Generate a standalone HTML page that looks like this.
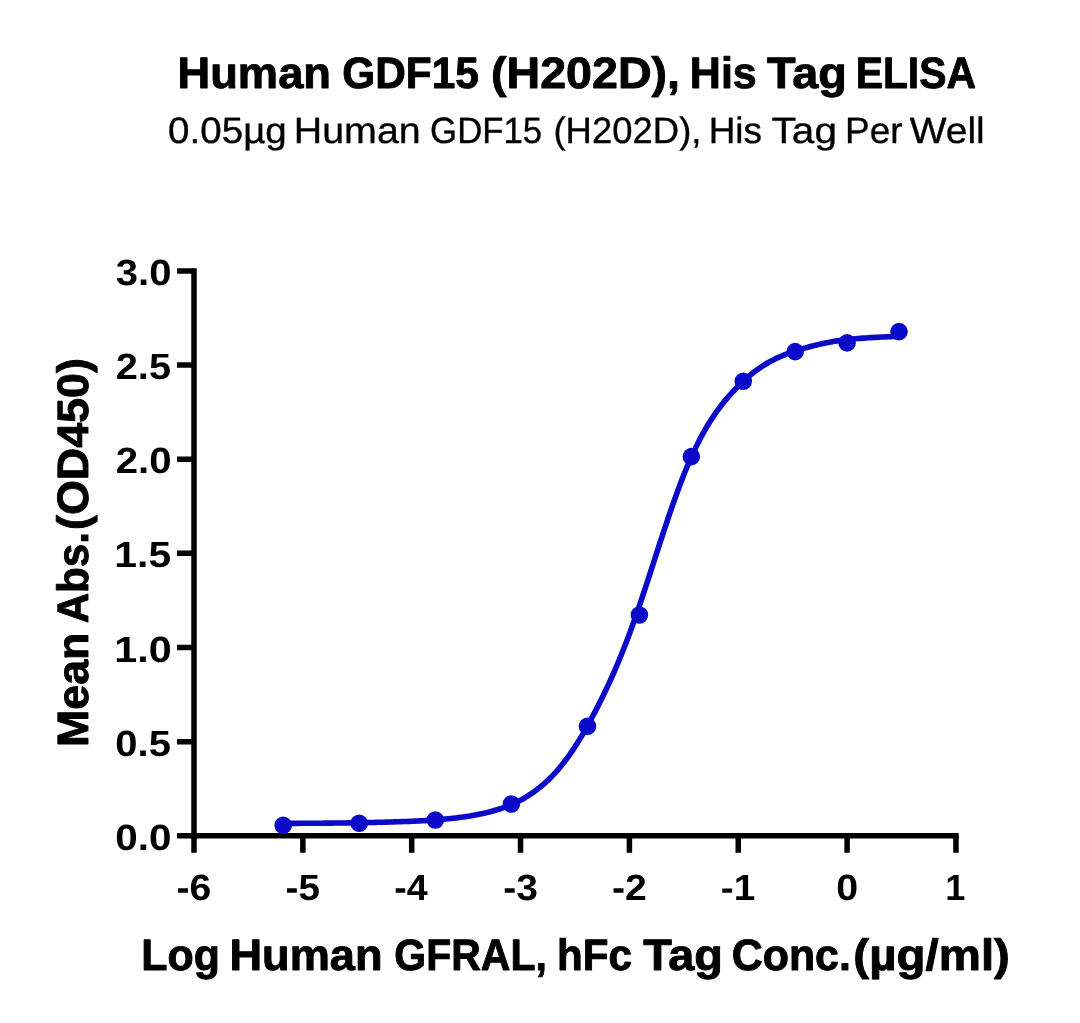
<!DOCTYPE html>
<html lang="en">
<head>
<meta charset="utf-8">
<title>Human GDF15 (H202D), His Tag ELISA</title>
<style>
html,body{margin:0;padding:0;background:#fff;}
body{width:1080px;height:1023px;overflow:hidden;}
svg{display:block;}
text{font-family:"Liberation Sans", "Noto Sans CJK SC", sans-serif;fill:#000;stroke:#000;stroke-linejoin:round;white-space:pre;}
.b{font-weight:700;}
</style>
</head>
<body>
<svg width="1080" height="1023" viewBox="0 0 1080 1023">
<rect x="0" y="0" width="1080" height="1023" fill="#ffffff"/>
<g id="title" aria-label="Human GDF15 (H202D), His Tag ELISA">
<text id="title_0" class="b" transform="matrix(1.03213 0 0.001 1 177.46 87.90)" font-size="43.9" stroke-width="0.9">Human</text>
<text id="title_1" class="b" transform="matrix(0.96682 0 0.001 1 342.19 87.90)" font-size="43.9" stroke-width="0.9">GDF15</text>
<text id="title_2" class="b" transform="matrix(1.06194 0 0.001 1 490.99 87.90)" font-size="43.9" stroke-width="0.9">(H202D),</text>
<text id="title_3" class="b" transform="matrix(0.98078 0 0.001 1 689.81 87.90)" font-size="43.9" stroke-width="0.9">His</text>
<text id="title_4" class="b" transform="matrix(1.06786 0 0.001 1 767.03 87.90)" font-size="43.9" stroke-width="0.9">Tag</text>
<text id="title_5" class="b" transform="matrix(0.93044 0 0.001 1 855.66 87.90)" font-size="43.9" stroke-width="0.9">ELISA</text>
</g>
<g id="sub" aria-label="0.05µg Human GDF15 (H202D), His Tag Per Well">
<text id="sub_0" transform="matrix(1.05500 0 0.001 1 168.12 142.70)" font-size="36.55" stroke-width="0.35">0.05µg</text>
<text id="sub_1" transform="matrix(1.07833 0 0.001 1 293.68 142.70)" font-size="36.55" stroke-width="0.35">Human</text>
<text id="sub_2" transform="matrix(0.95138 0 0.001 1 430.12 142.70)" font-size="36.55" stroke-width="0.35">GDF15</text>
<text id="sub_3" transform="matrix(0.99840 0 0.001 1 553.45 142.70)" font-size="36.55" stroke-width="0.35">(H202D),</text>
<text id="sub_4" transform="matrix(1.01109 0 0.001 1 708.67 142.70)" font-size="36.55" stroke-width="0.35">His</text>
<text id="sub_5" transform="matrix(1.10927 0 0.001 1 771.58 142.70)" font-size="36.55" stroke-width="0.35">Tag</text>
<text id="sub_6" transform="matrix(1.01253 0 0.001 1 845.05 142.70)" font-size="36.55" stroke-width="0.35">Per</text>
<text id="sub_7" transform="matrix(1.06696 0 0.001 1 909.65 142.70)" font-size="36.55" stroke-width="0.35">Well</text>
</g>
<g stroke="#000" stroke-width="5.5" fill="none" stroke-linecap="butt">
<path d="M194.00 268.15V838.55"/>
<path d="M191.25 835.80H958.70"/>
<path d="M177.00 835.80H194.00M177.00 741.65H194.00M177.00 647.50H194.00M177.00 553.35H194.00M177.00 459.20H194.00M177.00 365.05H194.00M177.00 270.90H194.00M194.00 835.80V852.70M302.85 835.80V852.70M411.70 835.80V852.70M520.55 835.80V852.70M629.40 835.80V852.70M738.25 835.80V852.70M847.10 835.80V852.70M955.95 835.80V852.70"/>
</g>
<g id="yticks">
<text id="yt0" class="b" transform="matrix(1.10855 0 0.001 1 115.30 849.85)" font-size="36.5" stroke-width="0.0">0.0</text>
<text id="yt1" class="b" transform="matrix(1.09721 0 0.001 1 115.34 755.70)" font-size="36.5" stroke-width="0.0">0.5</text>
<text id="yt2" class="b" transform="matrix(1.13103 0 0.001 1 114.29 661.55)" font-size="36.5" stroke-width="0.0">1.0</text>
<text id="yt3" class="b" transform="matrix(1.11905 0 0.001 1 114.35 567.40)" font-size="36.5" stroke-width="0.0">1.5</text>
<text id="yt4" class="b" transform="matrix(1.10150 0 0.001 1 115.70 473.25)" font-size="36.5" stroke-width="0.0">2.0</text>
<text id="yt5" class="b" transform="matrix(1.09068 0 0.001 1 115.73 379.10)" font-size="36.5" stroke-width="0.0">2.5</text>
<text id="yt6" class="b" transform="matrix(1.09942 0 0.001 1 115.70 284.95)" font-size="36.5" stroke-width="0.0">3.0</text>
</g>
<g id="xticks">
<text id="xt0" class="b" transform="matrix(1.07226 0 0.001 1 176.50 900.40)" font-size="36.5" stroke-width="0.0">-6</text>
<text id="xt1" class="b" transform="matrix(1.06149 0 0.001 1 285.58 900.40)" font-size="36.5" stroke-width="0.0">-5</text>
<text id="xt2" class="b" transform="matrix(1.03203 0 0.001 1 394.22 900.40)" font-size="36.5" stroke-width="0.0">-4</text>
<text id="xt3" class="b" transform="matrix(1.06973 0 0.001 1 503.13 900.40)" font-size="36.5" stroke-width="0.0">-3</text>
<text id="xt4" class="b" transform="matrix(1.07655 0 0.001 1 611.96 900.40)" font-size="36.5" stroke-width="0.0">-2</text>
<text id="xt5" class="b" transform="matrix(1.06283 0 0.001 1 720.81 900.40)" font-size="36.5" stroke-width="0.0">-1</text>
<text id="xt6" class="b" transform="matrix(1.07972 0 0.001 1 836.13 900.40)" font-size="36.5" stroke-width="0.0">0</text>
<text id="xt7" class="b" transform="matrix(0.98939 0 0.001 1 945.35 900.40)" font-size="36.5" stroke-width="0.0">1</text>
</g>
<g id="xl" aria-label="Log Human GFRAL, hFc Tag Conc.(µg/ml)">
<text id="xl_0" class="b" transform="matrix(0.97765 0 0.001 1 141.24 969.50)" font-size="43.9" stroke-width="0.9">Log</text>
<text id="xl_1" class="b" transform="matrix(1.03010 0 0.001 1 229.41 969.50)" font-size="43.9" stroke-width="0.9">Human</text>
<text id="xl_2" class="b" transform="matrix(0.93402 0 0.001 1 394.27 969.50)" font-size="43.9" stroke-width="0.9">GFRAL,</text>
<text id="xl_3" class="b" transform="matrix(0.96061 0 0.001 1 557.00 969.50)" font-size="43.9" stroke-width="0.9">hFc</text>
<text id="xl_4" class="b" transform="matrix(1.06761 0 0.001 1 643.17 969.50)" font-size="43.9" stroke-width="0.9">Tag</text>
<text id="xl_5" class="b" transform="matrix(0.97815 0 0.001 1 731.67 969.50)" font-size="43.9" stroke-width="0.9">Conc.</text>
<text id="xl_6" class="b" transform="matrix(1.08153 0 0.001 1 853.37 969.50)" font-size="43.9" stroke-width="0.9">(µg/ml)</text>
</g>
<g id="yl" aria-label="Mean Abs.(OD450)">
<text id="yl_0" class="b" transform="matrix(0 -1.01917 1 0.001 88.15 746.99)" font-size="43.9" stroke-width="0.9">Mean</text>
<text id="yl_1" class="b" transform="matrix(0 -0.95932 1 0.001 88.15 623.35)" font-size="43.9" stroke-width="0.9">Abs.</text>
<text id="yl_2" class="b" transform="matrix(0 -1.02044 1 0.001 88.15 529.92)" font-size="43.9" stroke-width="0.9">(OD450)</text>
</g>
<path d="M283.15 823.40 L285.73 823.39 L288.30 823.38 L290.88 823.37 L293.46 823.36 L296.03 823.35 L298.61 823.33 L301.19 823.32 L303.76 823.31 L306.34 823.29 L308.92 823.28 L311.49 823.26 L314.07 823.24 L316.65 823.22 L319.22 823.21 L321.80 823.19 L324.38 823.16 L326.96 823.14 L329.53 823.12 L332.11 823.09 L334.69 823.06 L337.26 823.03 L339.84 823.00 L342.42 822.97 L344.99 822.93 L347.57 822.90 L350.15 822.86 L352.72 822.82 L355.30 822.78 L357.88 822.74 L360.45 822.69 L363.03 822.64 L365.61 822.60 L368.19 822.54 L370.76 822.49 L373.34 822.44 L375.92 822.38 L378.49 822.32 L381.07 822.25 L383.65 822.19 L386.22 822.12 L388.80 822.05 L391.38 821.97 L393.95 821.90 L396.53 821.82 L399.11 821.73 L401.68 821.64 L404.26 821.55 L406.84 821.45 L409.42 821.34 L411.99 821.23 L414.57 821.12 L417.15 821.00 L419.72 820.87 L422.30 820.73 L424.88 820.58 L427.45 820.43 L430.03 820.26 L432.61 820.09 L435.18 819.91 L437.76 819.71 L440.34 819.51 L442.91 819.29 L445.49 819.05 L448.07 818.81 L450.65 818.54 L453.22 818.27 L455.80 817.97 L458.38 817.65 L460.95 817.32 L463.53 816.97 L466.11 816.59 L468.68 816.19 L471.26 815.76 L473.84 815.31 L476.41 814.84 L478.99 814.33 L481.57 813.79 L484.14 813.22 L486.72 812.61 L489.30 811.96 L491.88 811.28 L494.45 810.55 L497.03 809.79 L499.61 808.97 L502.18 808.11 L504.76 807.19 L507.34 806.22 L509.91 805.19 L512.49 804.10 L515.07 802.94 L517.64 801.69 L520.22 800.37 L522.80 798.96 L525.37 797.46 L527.95 795.87 L530.53 794.20 L533.11 792.42 L535.68 790.55 L538.26 788.58 L540.84 786.51 L543.41 784.33 L545.99 782.04 L548.57 779.64 L551.14 777.11 L553.72 774.43 L556.30 771.62 L558.87 768.65 L561.45 765.55 L564.03 762.29 L566.60 758.89 L569.18 755.34 L571.76 751.63 L574.34 747.78 L576.91 743.78 L579.49 739.62 L582.07 735.32 L584.64 730.87 L587.22 726.26 L589.80 721.56 L592.37 716.78 L594.95 711.91 L597.53 706.94 L600.10 701.86 L602.68 696.66 L605.26 691.33 L607.83 685.87 L610.41 680.25 L612.99 674.49 L615.57 668.57 L618.14 662.48 L620.72 656.22 L623.30 649.80 L625.87 643.20 L628.45 636.43 L631.03 629.48 L633.60 622.36 L636.18 615.06 L638.76 607.59 L641.33 599.98 L643.91 592.25 L646.49 584.42 L649.06 576.52 L651.64 568.57 L654.22 560.61 L656.80 552.64 L659.37 544.70 L661.95 536.80 L664.53 528.98 L667.10 521.26 L669.68 513.65 L672.26 506.18 L674.83 498.86 L677.41 491.72 L679.99 484.78 L682.56 478.05 L685.14 471.55 L687.72 465.30 L690.29 459.31 L692.87 453.59 L695.45 448.12 L698.03 442.89 L700.60 437.90 L703.18 433.13 L705.76 428.59 L708.33 424.26 L710.91 420.13 L713.49 416.20 L716.06 412.46 L718.64 408.88 L721.22 405.47 L723.79 402.22 L726.37 399.10 L728.95 396.12 L731.52 393.25 L734.10 390.49 L736.68 387.82 L739.26 385.23 L741.83 382.71 L744.41 380.25 L746.99 377.91 L749.56 375.68 L752.14 373.56 L754.72 371.55 L757.29 369.65 L759.87 367.85 L762.45 366.14 L765.02 364.52 L767.60 362.98 L770.18 361.53 L772.75 360.16 L775.33 358.86 L777.91 357.63 L780.49 356.47 L783.06 355.37 L785.64 354.34 L788.22 353.36 L790.79 352.43 L793.37 351.56 L795.95 350.73 L798.52 349.94 L801.10 349.16 L803.68 348.41 L806.25 347.68 L808.83 346.98 L811.41 346.30 L813.98 345.64 L816.56 345.01 L819.14 344.40 L821.72 343.81 L824.29 343.26 L826.87 342.72 L829.45 342.22 L832.02 341.74 L834.60 341.30 L837.18 340.88 L839.75 340.50 L842.33 340.14 L844.91 339.82 L847.48 339.54 L850.06 339.27 L852.64 339.03 L855.21 338.79 L857.79 338.57 L860.37 338.36 L862.95 338.16 L865.52 337.97 L868.10 337.80 L870.68 337.63 L873.25 337.48 L875.83 337.33 L878.41 337.20 L880.98 337.07 L883.56 336.95 L886.14 336.84 L888.71 336.74 L891.29 336.64 L893.87 336.55 L896.44 336.47 L899.02 336.40" fill="none" stroke="#0a0ac8" stroke-width="5.6" stroke-linejoin="round" stroke-linecap="round"/>
<g fill="#0a0ac8">
<circle cx="283.15" cy="825.30" r="8.8"/>
<circle cx="359.23" cy="823.30" r="8.8"/>
<circle cx="435.32" cy="820.00" r="8.8"/>
<circle cx="511.41" cy="804.00" r="8.8"/>
<circle cx="587.49" cy="726.30" r="8.8"/>
<circle cx="639.41" cy="615.00" r="8.8"/>
<circle cx="691.34" cy="456.60" r="8.8"/>
<circle cx="743.26" cy="381.30" r="8.8"/>
<circle cx="795.18" cy="351.60" r="8.8"/>
<circle cx="847.10" cy="342.90" r="8.8"/>
<circle cx="899.02" cy="331.60" r="8.8"/>
</g>
</svg>
</body>
</html>
